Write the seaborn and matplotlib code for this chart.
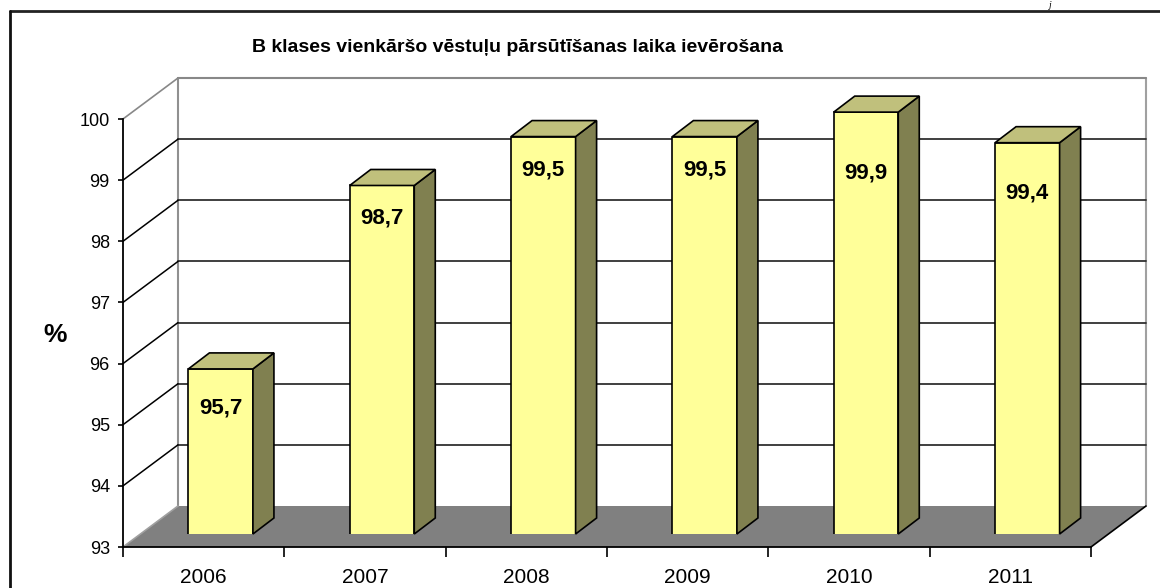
import matplotlib
matplotlib.use('Agg')
import matplotlib.pyplot as plt
from matplotlib.patches import Polygon
from matplotlib.lines import Line2D
import numpy as np
import pandas as pd
import seaborn as sns

# dati
years = ['2006', '2007', '2008', '2009', '2010', '2011']
values = [95.7, 98.7, 99.5, 99.5, 99.9, 99.4]
labels = ['95,7', '98,7', '99,5', '99,5', '99,9', '99,4']
y_ticks = [93, 94, 95, 96, 97, 98, 99, 100]
title = 'B klases vienkāršo vēstuļu pārsūtīšanas laika ievērošana'

# cik zemu zem virsotnes stāv uzraksts (kā Excel to saliek)
label_drop = [0.64, 0.53, 0.55, 0.55, 1.0, 0.82]

df = pd.DataFrame({'Gads': years, 'Proc': values})

sns.set_style('white')
plt.rcParams['font.family'] = ['Liberation Sans', 'DejaVu Sans']
plt.rcParams['text.color'] = 'black'
plt.rcParams['xtick.color'] = 'black'
plt.rcParams['ytick.color'] = 'black'

W, H = 1160, 588
fig = plt.figure(figsize=(W / 100, H / 100), dpi=100)

# priekšējā plakne pikseļos
x0p, x1p, ytop, ybot = 123, 1091, 119, 547


def rect(ox=0, oy=0):
    return [(x0p + ox) / W, (H - ybot + oy) / H, (x1p - x0p) / W, (ybot - ytop) / H]


n = len(years)
ymin, ymax = y_ticks[0], y_ticks[-1]
px_x = (x1p - x0p) / n
px_y = (ybot - ytop) / (ymax - ymin)
dx, dy = 55 / px_x, 41 / px_y      # kastes dziļums
bdx, bdy = 21 / px_x, 16 / px_y    # stabiņa dziļums

ax = fig.add_axes(rect())
ax.set_xlim(-0.5, n - 0.5)
ax.set_ylim(ymin, ymax)
ax.patch.set_alpha(0)

L, R = -0.5, n - 0.5
kw = dict(clip_on=False)

# grīda
ax.add_patch(Polygon([(L, ymin), (R, ymin), (R + dx, ymin + dy), (L + dx, ymin + dy)],
                     closed=True, facecolor='#808080', edgecolor='none', zorder=1, **kw))
ax.plot([R, R + dx], [ymin, ymin + dy], color='black', lw=1.2, zorder=2, **kw)
ax.plot([L, L + dx], [ymin, ymin + dy], color='#a0a0a0', lw=1.2, zorder=2, **kw)

# aizmugures siena
ax.plot([L + dx, L + dx], [ymin + dy, ymax + dy], color='#909090', lw=1.5, zorder=1, **kw)
ax.plot([R + dx, R + dx], [ymin + dy, ymax + dy], color='#a0a0a0', lw=1.5, zorder=1, **kw)
ax.plot([L + dx, R + dx], [ymax + dy, ymax + dy], color='#888888', lw=1.5, zorder=1, **kw)
ax.plot([L, L + dx], [ymax, ymax + dy], color='#888888', lw=1.2, zorder=1, **kw)
for v in y_ticks[1:-1]:
    ax.plot([L + dx, R + dx], [v + dy, v + dy], color='#303030', lw=1.3, zorder=1, **kw)
    ax.plot([L, L + dx], [v, v + dy], color='black', lw=1.1, zorder=1, **kw)

# asis
for s in ['top', 'right']:
    ax.spines[s].set_visible(False)
for s in ['left', 'bottom']:
    ax.spines[s].set_color('black')
    ax.spines[s].set_linewidth(1.3)
ax.set_yticks(y_ticks)
ax.set_yticklabels([str(t) for t in y_ticks])
ax.tick_params(axis='y', direction='out', length=3.5, width=1.2, pad=6, labelsize=13,
               left=True, color='black')
ax.set_xticks(np.arange(L, R + 0.01, 1))
ax.set_xticklabels([])
ax.tick_params(axis='x', which='major', direction='out', length=7, width=1.2, bottom=True,
               color='black')
ax.set_xticks(np.arange(n), minor=True)
ax.set_xticklabels(years, minor=True)
ax.tick_params(axis='x', which='minor', length=0, pad=15, labelsize=15)
ax.set_xlabel('')
ax.set_ylabel('')

# stabiņi nedaudz dziļāk par priekšējo plakni
axb = fig.add_axes(rect(17, 13))
sns.barplot(data=df, x='Gads', y='Proc', ax=axb, color='#FFFF99', saturation=1,
            width=0.4, edgecolor='black', linewidth=1.2, errorbar=None)
axb.set_xlim(-0.5, n - 0.5)
axb.set_ylim(ymin, ymax)
axb.axis('off')

for i, p in enumerate(axb.patches):
    x0 = p.get_x()
    w = p.get_width()
    v = p.get_y() + p.get_height()
    side = [(x0 + w, ymin), (x0 + w + bdx, ymin + bdy), (x0 + w + bdx, v + bdy), (x0 + w, v)]
    top = [(x0, v), (x0 + w, v), (x0 + w + bdx, v + bdy), (x0 + bdx, v + bdy)]
    axb.add_patch(Polygon(side, closed=True, facecolor='#808050', edgecolor='black',
                          lw=1.2, clip_on=False, zorder=3))
    axb.add_patch(Polygon(top, closed=True, facecolor='#C0C07C', edgecolor='black',
                          lw=1.2, clip_on=False, zorder=3))
    axb.text(x0 + w / 2, v - label_drop[i], labels[i], ha='center', va='center',
             fontsize=16, fontweight='bold', zorder=4)

fig.text(517 / W, 1 - 47 / H, title, ha='center', va='center', fontsize=14,
         fontweight='bold')
fig.text(55 / W, 1 - 335 / H, '%', ha='center', va='center', fontsize=19,
         fontweight='bold')

# rāmis un lapas galvene
fig.add_artist(Line2D([10 / W, 1], [1 - 11 / H, 1 - 11 / H], color='#222222', lw=2))
fig.add_artist(Line2D([10 / W, 10 / W], [0, 1 - 11 / H], color='#111111', lw=2))
fig.text(1049 / W, 1 - 1 / H, 'j', style='italic', fontsize=7, ha='center',
         va='top', family=['Liberation Serif', 'DejaVu Serif'])

fig.savefig('out.png', dpi=100)
